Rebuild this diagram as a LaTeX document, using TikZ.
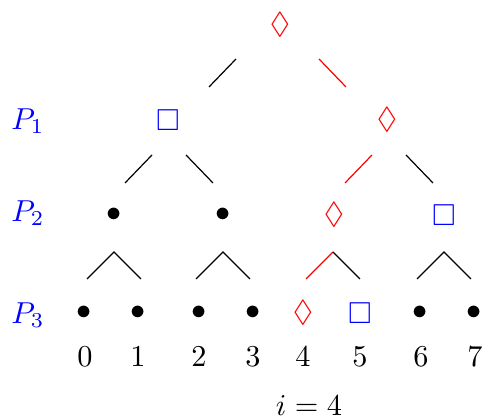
\documentclass[tikz,border=0pt]{standalone}
\usepackage{amssymb}
\begin{document}
\begin{tikzpicture}[x=0.33pt,y=-0.33pt,
  sym/.style={inner sep=0pt},
  lab/.style={inner sep=0pt,text=blue},
  num/.style={inner sep=0pt},
  seg/.style={line width=0.4pt,black},
  hot/.style={line width=0.4pt,red}]
\useasboundingbox (0,0) rectangle (483,419);
% level 0
\node[sym,text=red] (r) at (280,25) {$\lozenge$};
% level 1
\node[sym,text=blue] (a1) at (168,120) {$\square$};
\node[sym,text=red] (a2) at (387,120) {$\lozenge$};
% level 2
\node[sym] (b1) at (114,215) {$\bullet$};
\node[sym] (b2) at (223,215) {$\bullet$};
\node[sym,text=red] (b3) at (334,215) {$\lozenge$};
\node[sym,text=blue] (b4) at (444,215) {$\square$};
% level 3
\node[sym] (c0) at (84.5,313) {$\bullet$};
\node[sym] (c1) at (138.5,313) {$\bullet$};
\node[sym] (c2) at (199,313) {$\bullet$};
\node[sym] (c3) at (253,313) {$\bullet$};
\node[sym,text=red] (c4) at (303,313) {$\lozenge$};
\node[sym,text=blue] (c5) at (360,313) {$\square$};
\node[sym] (c6) at (420.5,313) {$\bullet$};
\node[sym] (c7) at (474.5,313) {$\bullet$};
% level labels
\node[lab] (p1) at (28,121) {$P_1$};
\node[lab] (p2) at (28,213) {$P_2$};
\node[lab] (p3) at (28,315) {$P_3$};
% indices
\foreach \i/\x in {0/85,1/138,2/199,3/253,4/303,5/360,6/421,7/475}
  \node[num] (n\i) at (\x,357) {$\i$};
\node[num] (ilab) at (309,406) {$i=4$};
% edge coordinates
\coordinate (e1a) at (236,59);  \coordinate (e1b) at (209,87);
\coordinate (e2a) at (319,59);  \coordinate (e2b) at (346,87);
\coordinate (f1a) at (152,155); \coordinate (f1b) at (125,183);
\coordinate (f2a) at (186,155); \coordinate (f2b) at (213,183);
\coordinate (f3a) at (372,155); \coordinate (f3b) at (345,183);
\coordinate (f4a) at (406,155); \coordinate (f4b) at (433,183);
\coordinate (g1) at (114,252); \coordinate (g1l) at (87,279); \coordinate (g1r) at (141,279);
\coordinate (g2) at (223,252); \coordinate (g2l) at (196,279); \coordinate (g2r) at (250,279);
\coordinate (g3) at (333,252); \coordinate (g3l) at (306,279); \coordinate (g3r) at (360,279);
\coordinate (g4) at (444,252); \coordinate (g4l) at (417,279); \coordinate (g4r) at (471,279);
\draw[seg] (e1a) -- (e1b);
\draw[hot] (e2a) -- (e2b);
\draw[seg] (f1a) -- (f1b);
\draw[seg] (f2a) -- (f2b);
\draw[hot] (f3a) -- (f3b);
\draw[seg] (f4a) -- (f4b);
\draw[seg] (g1l) -- (g1) -- (g1r);
\draw[seg] (g2l) -- (g2) -- (g2r);
\draw[hot] (g3l) -- (g3);
\draw[seg] (g3) -- (g3r);
\draw[seg] (g4l) -- (g4) -- (g4r);
\end{tikzpicture}
\end{document}
